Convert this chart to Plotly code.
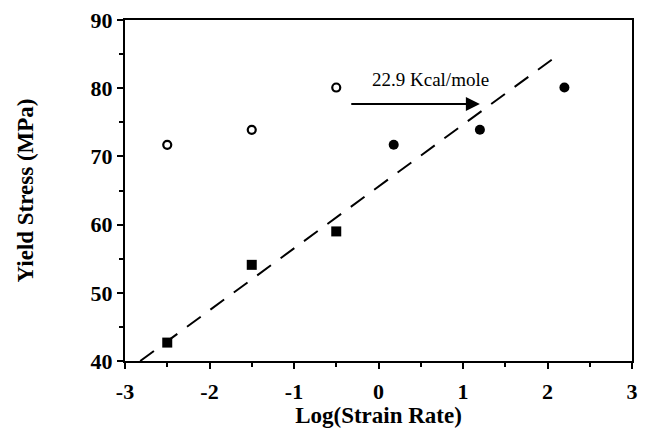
import plotly.graph_objects as go

# Data
open_x = [-2.5, -1.5, -0.5]
open_y = [71.7, 73.9, 80.1]

filled_x = [0.18, 1.2, 2.2]
filled_y = [71.7, 73.9, 80.1]

square_x = [-2.5, -1.5, -0.5]
square_y = [42.7, 54.1, 59.0]

fit_x = [-2.82, 2.13]
fit_y = [40.0, 84.9]

arrow_tail = (-0.34, 77.7)
arrow_tip = (1.2, 77.7)
arrow_label = "22.9 Kcal/mole"
label_pos = (0.62, 81.3)

x_ticks = [-3, -2, -1, 0, 1, 2, 3]
y_ticks = [40, 50, 60, 70, 80, 90]

FONT = "Liberation Serif"

fig = go.Figure()

fig.add_trace(go.Scatter(
    x=fit_x, y=fit_y, mode="lines",
    line=dict(color="black", width=2, dash="17px,12px"),
    showlegend=False, hoverinfo="skip"))

fig.add_trace(go.Scatter(
    x=open_x, y=open_y, mode="markers",
    marker=dict(symbol="circle-open", size=8, color="black", line=dict(width=2.2)),
    showlegend=False))

fig.add_trace(go.Scatter(
    x=filled_x, y=filled_y, mode="markers",
    marker=dict(symbol="circle", size=10, color="black"),
    showlegend=False))

fig.add_trace(go.Scatter(
    x=square_x, y=square_y, mode="markers",
    marker=dict(symbol="square", size=10, color="black"),
    showlegend=False))

fig.add_annotation(
    x=arrow_tip[0], y=arrow_tip[1], ax=arrow_tail[0], ay=arrow_tail[1],
    xref="x", yref="y", axref="x", ayref="y",
    text="", showarrow=True, arrowhead=2, arrowsize=1.4, arrowwidth=2,
    arrowcolor="black")

fig.add_annotation(
    x=label_pos[0], y=label_pos[1], xref="x", yref="y",
    text=arrow_label, showarrow=False,
    font=dict(family=FONT, size=19, color="black"))

axis_common = dict(
    showgrid=False, zeroline=False, showline=True, linecolor="black",
    linewidth=2, mirror=True, ticks="outside", ticklen=6, tickwidth=2,
    tickcolor="black", automargin=False, ticklabeloverflow="allow",
    tickfont=dict(family=FONT, size=22, color="black", weight="bold"),
)

fig.update_xaxes(
    range=[-3, 3], tickvals=x_ticks, ticktext=[str(v) for v in x_ticks],
    minor=dict(tickvals=[-2.5, -1.5, -0.5, 0.5, 1.5, 2.5], ticks="outside",
               ticklen=4, tickwidth=2, tickcolor="black"),
    ticklabelstandoff=4,
    title=dict(text="Log(Strain Rate)", standoff=6,
               font=dict(family=FONT, size=23, color="black", weight="bold")),
    **axis_common)

fig.update_yaxes(
    range=[40, 90], tickvals=y_ticks, ticktext=[str(v) for v in y_ticks],
    minor=dict(tickvals=[45, 55, 65, 75, 85], ticks="outside",
               ticklen=4, tickwidth=2, tickcolor="black"),
    title=dict(text="Yield Stress (MPa)", standoff=51,
               font=dict(family=FONT, size=23, color="black", weight="bold")),
    **axis_common)

# The page adds an 8px body margin, so the figure is sized to fit the window
fig.update_layout(
    width=632, height=420,
    margin=dict(l=117, r=8, t=12, b=67),
    plot_bgcolor="white", paper_bgcolor="white",
    showlegend=False,
)

fig.write_html("out.html")
